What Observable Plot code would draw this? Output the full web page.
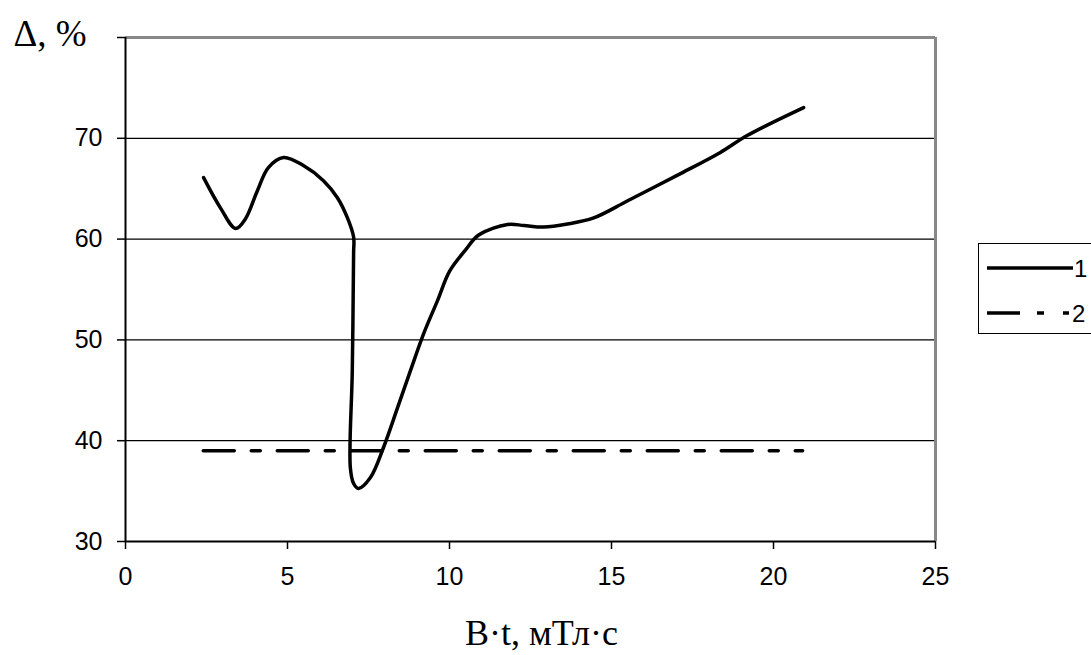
<!DOCTYPE html>
<html>
<head>
<meta charset="utf-8">
<script src="https://cdn.jsdelivr.net/npm/d3@7"></script>
<script src="https://cdn.jsdelivr.net/npm/@observablehq/plot@0.6"></script>
<style>
  html, body { margin: 0; padding: 0; background: #fff; overflow: hidden; }
  #wrap { position: relative; width: 1091px; height: 655px; }
  #legend { position: absolute; left: 978px; top: 243px; width: 140px; height: 91px;
            border: 1px solid #000; box-sizing: border-box; background: #fff; }
</style>
</head>
<body>
<div id="wrap">
  <div id="chart"></div>
  <div id="legend"></div>
</div>
<script>
// Series 1 (solid)
const s1X = [2.41, 2.93, 3.4, 3.7, 4.07, 4.41, 4.88, 5.49, 6.11, 6.54, 6.85, 7.04, 7.04, 7.0, 6.94, 7.04, 7.19, 7.56, 7.96, 8.4, 8.8, 9.2, 9.63, 10.0, 10.49, 10.9, 11.79, 12.3, 12.9, 13.64, 14.45, 15.5, 17.13, 18.36, 19.2, 20.93];
const s1Y = [66.1, 63.1, 61.05, 62.0, 64.8, 67.1, 68.1, 67.3, 65.8, 64.1, 62.1, 60.2, 58.6, 47.0, 37.3, 35.75, 35.26, 36.35, 39.3, 43.3, 47.0, 50.6, 53.9, 56.8, 58.9, 60.4, 61.45, 61.35, 61.2, 61.5, 62.1, 63.8, 66.5, 68.6, 70.3, 73.05];
// Series 2 (dash-dot, constant level)
const s2X = [2.4, 20.9];
const s2Y = [39, 39];
// Axis ticks
const xTicks = [0, 5, 10, 15, 20, 25];
const yTicks = [30, 40, 50, 60, 70, 80];
const gridY = [40, 50, 60, 70];
const seriesNames = ["1", "2"];
const yTitle = "Δ, %";
const xTitle = "B·t, мТл·с";

const d1 = s1X.map((x, i) => ({x, y: s1Y[i]}));
const d2 = s2X.map((x, i) => ({x, y: s2Y[i]}));

const chart = Plot.plot({
  width: 1091,
  height: 655,
  marginLeft: 125,
  marginRight: 156,
  marginTop: 37,
  marginBottom: 114,
  style: { background: "#fff", fontFamily: "'Liberation Sans', Arial, sans-serif", fontSize: "25px", color: "#000" },
  x: { domain: [0, 25] },
  y: { domain: [30, 80] },
  marks: [
    Plot.ruleY(gridY, { stroke: "#000", strokeWidth: 1.2 }),
    Plot.ruleY([80], { stroke: "#888", strokeWidth: 3 }),
    Plot.ruleX([25], { stroke: "#888", strokeWidth: 3 }),
    Plot.ruleX([0], { stroke: "#000", strokeWidth: 2 }),
    Plot.ruleY([30], { stroke: "#000", strokeWidth: 2 }),
    Plot.axisX({ ticks: xTicks, tickSize: 8, tickPadding: 18, tickFormat: d => String(d), label: null, strokeWidth: 1.5 }),
    Plot.axisY({ ticks: yTicks, tickSize: 8, tickPadding: 15, tickFormat: d => d === 80 ? "" : String(d), label: null, strokeWidth: 1.5 }),
    Plot.line(d2, { x: "x", y: "y", stroke: "#000", strokeWidth: 3.5, strokeDasharray: "31,17,9,17" }),
    Plot.line(d1, { x: "x", y: "y", stroke: "#000", strokeWidth: 3.5, curve: "catmull-rom" }),
    Plot.text([yTitle], { frameAnchor: "top-left", dx: -112, dy: 8, textAnchor: "start", lineAnchor: "bottom",
      fontFamily: "'Liberation Serif', 'Times New Roman', serif", fontSize: 37 }),
    Plot.text([xTitle], { frameAnchor: "bottom", dx: 11, dy: 103, lineAnchor: "bottom",
      fontFamily: "'Liberation Serif', 'Times New Roman', serif", fontSize: 36 })
  ]
});
document.getElementById("chart").appendChild(chart);

// Legend
const leg = d3.select("#legend").append("svg").attr("width", 140).attr("height", 91)
  .style("position", "absolute").style("left", "-1px").style("top", "-1px");
const legItems = [
  { name: seriesNames[0], y: 25, dash: null },
  { name: seriesNames[1], y: 70, dash: "33,17,7,19,6,100" }
];
legItems.forEach(it => {
  leg.append("line").attr("x1", 9).attr("x2", 95).attr("y1", it.y).attr("y2", it.y)
    .attr("stroke", "#000").attr("stroke-width", 3.5)
    .attr("stroke-dasharray", it.dash);
  leg.append("text").attr("x", it.name === "1" ? 96 : 94).attr("y", it.y + 9)
    .attr("font-family", "'Liberation Sans', Arial, sans-serif").attr("font-size", 24)
    .text(it.name);
});
</script>
</body>
</html>
